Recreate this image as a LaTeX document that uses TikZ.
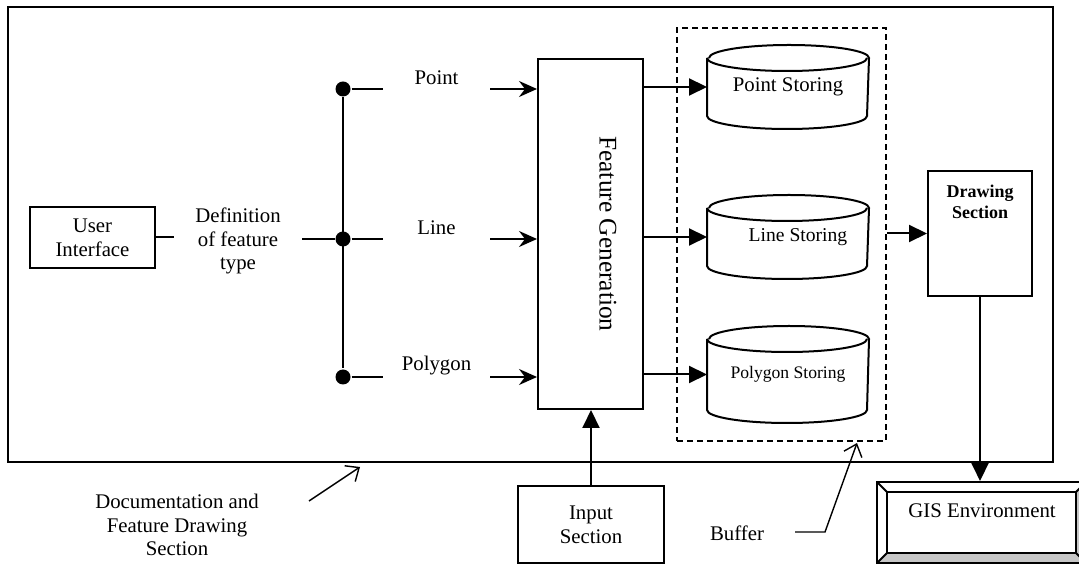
\documentclass[tikz,border=0pt]{standalone}
\usepackage{fontspec}
\setmainfont{Liberation Serif}
\usetikzlibrary{arrows.meta}

% outline of a storage drum drawn over an (invisible) rectangle node
\newcommand{\drawdrum}[1]{%
  \draw ([yshift=-6.5pt]#1.north west) -- ([yshift=6.5pt]#1.south west)
        arc[start angle=180, end angle=360, x radius=40pt, y radius=6.5pt]
        -- ([yshift=-6.5pt]#1.north east)
        arc[start angle=0, end angle=180, x radius=40pt, y radius=6.5pt];
  \draw ([yshift=-6.5pt]#1.north west)
        arc[start angle=180, end angle=360, x radius=40pt, y radius=6.5pt];
}

\begin{document}
\begin{tikzpicture}[x=0.5pt, y=-0.5pt, line width=1pt,
  every node/.style={font=\fontsize{10.4}{11.8}\selectfont, inner sep=0pt},
  box/.style={draw, fill=white, align=center},
  txt/.style={align=center},
  dot/.style={circle, fill, minimum size=7.5pt, inner sep=0pt},
  inarrow/.style={-{Stealth[length=9pt, width=8pt, inset=3pt]}},
  outarrow/.style={-{Triangle[length=9pt, width=8.5pt]}},
  openarrow/.style={line width=0.7pt, -{Straight Barb[length=5.5pt, width=9.5pt]}},
]
\useasboundingbox (0,0) rectangle (1079,565);

% enclosing section
\node[draw, minimum width=522.5pt, minimum height=227.5pt] (outer) at (530.5,234.5) {};

% user interface and feature type choice
\node[box, minimum width=62.5pt, minimum height=30.5pt] (ui) at (92.5,237.5) {User\\Interface};
\node[txt, minimum width=63pt] (def) at (238,241) {Definition\\of feature\\type};
\draw (ui.east) -- (ui.east -| def.west);

\node[dot] (jp) at (343,89) {};
\node[dot] (jl) at (343,239) {};
\node[dot] (jg) at (343,377) {};
\draw (def.east |- jl) -- (jl);
\draw (jp) -- (jg);

\node[txt, minimum width=52.5pt] (lp) at (436.5,78) {Point};
\node[txt, minimum width=52.5pt] (ll) at (436.5,228) {Line};
\node[txt, minimum width=52.5pt] (lg) at (436.5,366) {Polygon};

% feature generation
\node[box, minimum width=52.5pt, minimum height=175pt] (fg) at (590.5,234) {};
\node[rotate=-90, font=\fontsize{12.7}{15}\selectfont] (fgt) at (608,234) {Feature Generation};

\draw (jp) -- (jp -| lp.west);
\draw (jl) -- (jl -| ll.west);
\draw (jg) -- (jg -| lg.west);
\draw[inarrow] (lp.east |- jp) -- (jp -| fg.west);
\draw[inarrow] (ll.east |- jl) -- (jl -| fg.west);
\draw[inarrow] (lg.east |- jg) -- (jg -| fg.west);

% buffer with the three stores
\node[draw, dash pattern=on 3pt off 2pt, minimum width=104.5pt, minimum height=206.5pt] (buf) at (781.5,234.5) {};

\node[minimum width=80pt, minimum height=41pt] (ps) at (788,87) {Point Storing};
\node[minimum width=80pt, minimum height=41pt, font=\fontsize{9.8}{11}\selectfont] (pl) at (788,237) {\hspace*{10pt}Line Storing};
\node[minimum width=80pt, minimum height=47.5pt, font=\fontsize{8.8}{10}\selectfont] (pg) at (788,374.5) {Polygon Storing};
\drawdrum{ps}
\drawdrum{pl}
\drawdrum{pg}

\draw[outarrow] (fg.east |- ps.west) -- (ps.west);
\draw[outarrow] (fg.east |- pl.west) -- (pl.west);
\draw[outarrow] (fg.east |- pg.west) -- (pg.west);

% drawing section
\node[box, minimum width=52pt, minimum height=62.5pt] (ds) at (980,233.5) {};
\node[txt, font=\bfseries\fontsize{9}{10.2}\selectfont] (dst) at (980,202) {Drawing\\Section};
\draw[outarrow] (buf.east |- ds.west) -- (ds.west);

% GIS environment (bevelled frame)
\fill[gray!45] (877,563) -- (1086,563) -- (1076,553) -- (887,553) -- cycle;
\fill[gray!45] (1086,482) -- (1086,563) -- (1076,553) -- (1076,492) -- cycle;
\node[draw, minimum width=104.5pt, minimum height=40.5pt] (gis) at (981.5,522.5) {};
\draw (887,492) rectangle (1076,553);
\draw (877,482) -- (887,492) (877,563) -- (887,553)
      (1086,482) -- (1076,492) (1086,563) -- (1076,553);
\node[txt] (gist) at (982,511) {GIS Environment};
\draw[outarrow] (ds.south) -- (ds.south |- gis.north);

% input section
\node[box, minimum width=73pt, minimum height=38.5pt] (in) at (591,524.5) {Input\\Section};
\draw[outarrow] (in.north) -- (in.north |- fg.south);

% callouts
\node[txt] (doc) at (177,525) {Documentation and\\Feature Drawing\\Section};
\coordinate (da) at (309,501);
\coordinate (db) at (360,467);
\draw[openarrow] (da) -- (db);

\node[txt] (bl) at (737,533) {Buffer};
\coordinate (ba) at (795,532);
\coordinate (bb) at (825,532);
\coordinate (bc) at (857,443);
\draw[openarrow] (ba) -- (bb) -- (bc);
\end{tikzpicture}
\end{document}
